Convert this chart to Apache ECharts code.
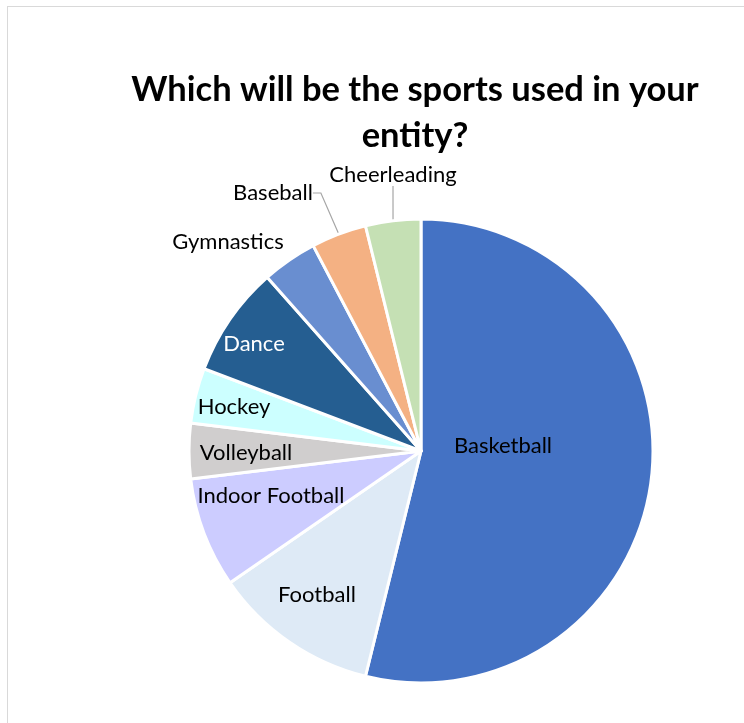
<!DOCTYPE html>
<html>
<head>
<meta charset="utf-8">
<script src="https://cdn.jsdelivr.net/npm/echarts@6/dist/echarts.min.js"></script>
<style>
  html, body { margin: 0; padding: 0; background: #fff; overflow: hidden; }
  #frame { position: absolute; left: 7px; top: 6px; width: 780px; height: 760px; border: 1px solid #d9d9d9; }
  #chart { position: absolute; left: 0; top: 0; width: 744px; height: 723px; }
</style>
</head>
<body>
<div id="frame"></div>
<div id="chart"></div>
<script>
// Survey answers: number of responses per sport
const categories = ['Basketball', 'Football', 'Indoor Football', 'Volleyball', 'Hockey', 'Dance', 'Gymnastics', 'Baseball', 'Cheerleading'];
const responses = [14, 3, 2, 1, 1, 2, 1, 1, 1];
const sliceColors = ['#4472C4', '#DEEAF6', '#CCCCFF', '#D0CECE', '#CCFFFF', '#255E91', '#698ED0', '#F4B183', '#C5E0B4'];
const outsideLabels = ['Gymnastics', 'Baseball', 'Cheerleading'];
const leaderLines = ['Baseball', 'Cheerleading'];

// Label anchor points (pixel centres) for each slice label
const labelSpots = {
  'Basketball': [503, 446],
  'Football': [317, 595],
  'Indoor Football': [271, 496],
  'Volleyball': [246, 453],
  'Hockey': [234, 407],
  'Dance': [254, 344],
  'Gymnastics': [228, 242],
  'Baseball': [273, 193],
  'Cheerleading': [393, 175]
};

const fontFamily = 'Lato, "Open Sans", sans-serif';

const data = categories.map((name, i) => {
  const outside = outsideLabels.includes(name);
  return {
    name,
    value: responses[i],
    itemStyle: { color: sliceColors[i] },
    label: {
      position: outside ? 'outside' : 'inside',
      color: name === 'Dance' ? '#ffffff' : '#000000'
    },
    labelLine: { show: leaderLines.includes(name) }
  };
});

const chart = echarts.init(document.getElementById('chart'), null, { renderer: 'canvas' });
chart.setOption({
  animation: false,
  title: {
    text: 'Which will be the sports used in your\nentity?',
    left: 410,
    top: 62,
    textAlign: 'center',
    textStyle: { fontFamily, fontSize: 34.5, fontWeight: 'bold', color: '#000', lineHeight: 46 }
  },
  series: [{
    type: 'pie',
    center: [421, 451],
    radius: 232,
    startAngle: 90,
    clockwise: true,
    data,
    emphasis: { disabled: true },
    itemStyle: { borderColor: '#ffffff', borderWidth: 3 },
    label: {
      show: true,
      formatter: '{b}',
      fontFamily,
      fontSize: 22,
      color: '#000'
    },
    labelLine: {
      show: false,
      length: 10,
      length2: 8,
      lineStyle: { color: '#A6A6A6', width: 1.2 }
    },
    labelLayout: function (params) {
      const name = categories[params.dataIndex];
      const p = labelSpots[name];
      return { x: p[0], y: p[1], align: 'center', verticalAlign: 'middle' };
    }
  }]
});
</script>
</body>
</html>
